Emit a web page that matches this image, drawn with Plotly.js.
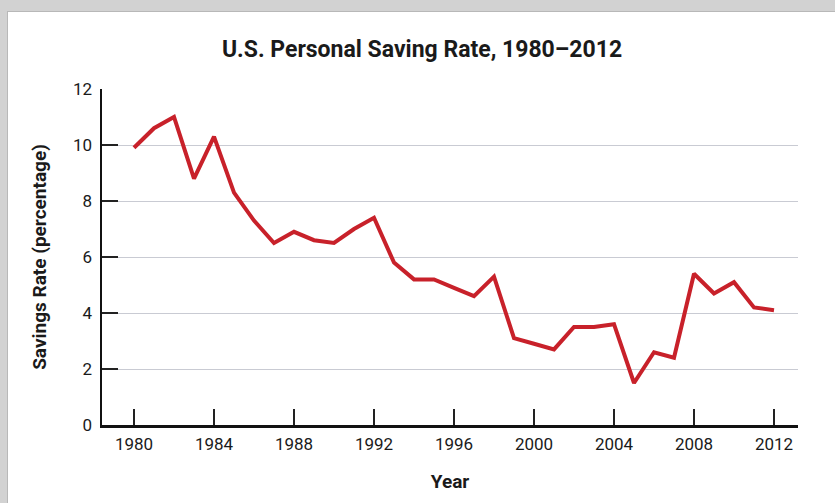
<!DOCTYPE html>
<html>
<head>
<meta charset="utf-8">
<script src="https://cdn.plot.ly/plotly-3.0.1.min.js"></script>
<style>
  html, body { margin: 0; padding: 0; }
  body { width: 835px; height: 503px; background: #d2d2d2; position: relative; overflow: hidden; }
  #panel { position: absolute; left: 7px; top: 11px; width: 828px; height: 492px; background: #ffffff; border-left: 1px solid #b8b8b8; border-top: 1px solid #b8b8b8; }
  #chart { position: absolute; left: 0; top: 0; width: 835px; height: 503px; }
</style>
</head>
<body>
<div id="panel"></div>
<div id="chart"></div>
<script>
const years = [1980,1981,1982,1983,1984,1985,1986,1987,1988,1989,1990,1991,1992,1993,1994,1995,1996,1997,1998,1999,2000,2001,2002,2003,2004,2005,2006,2007,2008,2009,2010,2011,2012];
const savingRate = [9.9,10.6,11.0,8.8,10.3,8.3,7.3,6.5,6.9,6.6,6.5,7.0,7.4,5.8,5.2,5.2,4.9,4.6,5.3,3.1,2.9,2.7,3.5,3.5,3.6,1.5,2.6,2.4,5.4,4.7,5.1,4.2,4.1];
const xTicks = [1980,1984,1988,1992,1996,2000,2004,2008,2012];
const yTicks = [0,2,4,6,8,10,12];

const FONT = 'Roboto, "Liberation Sans", sans-serif';

const trace = {
  x: years, y: savingRate, type: 'scatter', mode: 'lines',
  line: { color: '#c8212a', width: 4, shape: 'linear' },
  hoverinfo: 'x+y'
};

const layout = {
  width: 835, height: 503,
  paper_bgcolor: 'rgba(0,0,0,0)', plot_bgcolor: 'rgba(0,0,0,0)',
  margin: { l: 102, r: 37, t: 89, b: 78 },
  showlegend: false,
  font: { family: FONT, color: '#1a1a1a', size: 16 },
  title: {
    text: '<b>U.S. Personal Saving Rate, 1980–2012</b>',
    font: { family: FONT, size: 23, color: '#1a1a1a' },
    x: 422/835, xref: 'container', xanchor: 'center', y: 1 - 49/503, yref: 'container', yanchor: 'middle'
  },
  xaxis: {
    range: [1978.4, 2013.2],
    tickmode: 'array', tickvals: xTicks, ticktext: xTicks.map(String),
    ticks: 'inside', ticklen: 16, tickwidth: 2, tickcolor: '#222',
    ticklabelstandoff: 2,
    showline: true, linecolor: '#111', linewidth: 2.5,
    showgrid: false, zeroline: false,
    tickfont: { family: FONT, size: 17, color: '#1a1a1a' },
    title: { text: '<b>Year</b>', font: { family: FONT, size: 19, color: '#1a1a1a' }, standoff: 22 }
  },
  yaxis: {
    range: [0, 12],
    tickmode: 'array', tickvals: yTicks, ticktext: yTicks.map(String),
    ticks: 'inside', ticklen: 16, tickwidth: 2, tickcolor: '#222',
    ticklabelstandoff: 4,
    showline: true, linecolor: '#111', linewidth: 2.5,
    showgrid: true, gridcolor: '#c9cbd3', gridwidth: 1,
    zeroline: false,
    tickfont: { family: FONT, size: 17, color: '#1a1a1a' },
    title: { text: '<b>Savings Rate (percentage)</b>', font: { family: FONT, size: 19, color: '#1a1a1a' }, standoff: 22 }
  }
};

Plotly.newPlot('chart', [trace], layout, { displayModeBar: false, staticPlot: true });
</script>
</body>
</html>
